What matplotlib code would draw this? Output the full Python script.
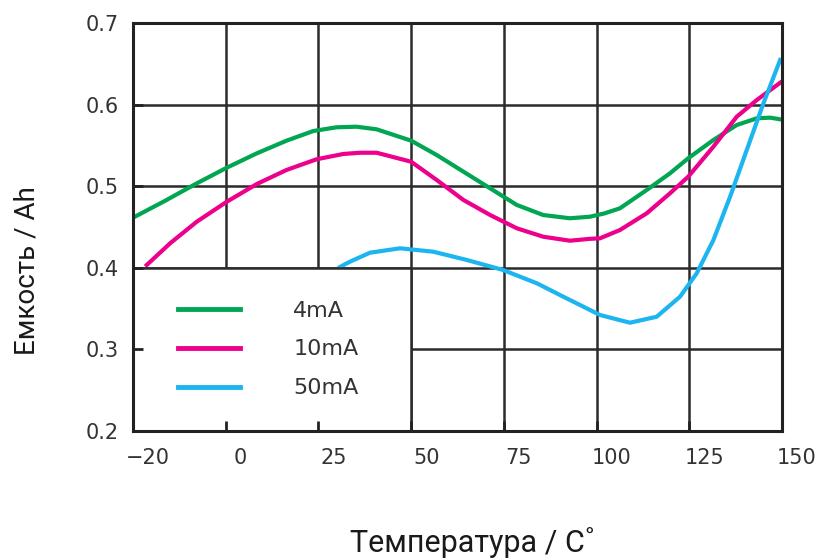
import matplotlib
matplotlib.use("Agg")
import matplotlib.pyplot as plt
import matplotlib.transforms as mtransforms
from matplotlib.patches import Rectangle

# ---- data ----
temp_4ma = [-24.5, -16.8, -7.8, 0.3, 8.4, 16.4, 23.6, 29.9, 35.3, 40.7, 50, 56.9,
            64.1, 71.3, 78.5, 85.6, 92.8, 98.2, 102, 106.3, 113.5, 119.8, 124.7, 131.5,
            137.8, 143.2, 146.8, 149.5]
cap_4ma = [0.4626, 0.481, 0.5035, 0.5227, 0.5403, 0.5558, 0.5676, 0.5722, 0.5729,
           0.5697, 0.5558, 0.5382, 0.5178, 0.4974, 0.477, 0.4647, 0.4607, 0.4626,
           0.4665, 0.4729, 0.4953, 0.5158, 0.5342, 0.5566, 0.575, 0.5832, 0.584, 0.582]

temp_10ma = [-21.3, -15, -7.8, 0.3, 8.4, 16.4, 24.5, 31.7, 36.2, 40.7, 50, 56.9,
             64.1, 71.3, 78.5, 85.6, 92.8, 98.2, 100.9, 106.3, 113.5, 119.8, 124.7,
             131.5, 137.8, 143.2, 149.5]
cap_10ma = [0.4034, 0.430, 0.4565, 0.481, 0.5027, 0.5199, 0.533, 0.5395, 0.541,
            0.541, 0.530, 0.5076, 0.4831, 0.4647, 0.4484, 0.4381, 0.4332, 0.4355,
            0.4361, 0.4463, 0.4667, 0.4913, 0.5116, 0.5484, 0.5852, 0.6056, 0.6268]

temp_50ma = [30.8, 33.5, 38.9, 47, 56, 65, 74.8, 83.9, 91.9, 95.5, 100.9, 109,
             116.2, 122.5, 127, 131.5, 136, 140.5, 145, 149.5]
cap_50ma = [0.401, 0.4075, 0.4185, 0.4239, 0.4197, 0.4096, 0.3973, 0.381, 0.3626,
            0.3545, 0.3422, 0.3327, 0.340, 0.3646, 0.3933, 0.434, 0.4871, 0.5444,
            0.6016, 0.6547]

series_labels = ["4mA", "10mA", "50mA"]
series_colors = ["#00a651", "#ec008c", "#1cb5ef"]

x_grid = [-25, 0, 25, 50, 75, 100, 125, 150]
x_ticklabels = ["\u221220", "0", "25", "50", "75", "100", "125", "150"]
y_grid = [0.2, 0.3, 0.4, 0.5, 0.6, 0.7]

# ---- figure ----
fig = plt.figure(figsize=(8.24, 5.58), dpi=100)
ax = fig.add_axes([133 / 824, 1 - 431 / 558, 649 / 824, 408 / 558])
ax.set_xlim(-25, 150)
ax.set_ylim(0.2, 0.7)

grid_kw = dict(color="#2b2b2b", lw=1.8)
for gx in x_grid[1:-1]:
    ax.axvline(gx, zorder=1, **grid_kw)
for gy in y_grid[1:-1]:
    ax.axhline(gy, zorder=1, **grid_kw)

for xs, ys, c, lab in zip([temp_4ma, temp_10ma, temp_50ma],
                          [cap_4ma, cap_10ma, cap_50ma],
                          series_colors, series_labels):
    ax.plot(xs, ys, color=c, lw=3, label=lab, zorder=2, solid_joinstyle="round")

# white box behind the legend (hides the grid in the lower-left corner)
ax.add_patch(Rectangle((-25, 0.2), 75, 0.2, facecolor="white", edgecolor="none", zorder=3))
ax.axvline(50, ymin=0, ymax=0.4, zorder=3.5, **grid_kw)
ax.axhline(0.4, xmin=0, xmax=75 / 175, zorder=3.5, **grid_kw)

leg = ax.legend(loc="center left", bbox_to_anchor=(0.069, 0.2), frameon=False,
                fontsize=16, handlelength=2.8, handletextpad=2.4, labelspacing=0.85,
                borderpad=0, borderaxespad=0)
for h in leg.get_lines():
    h.set_linewidth(3.5)
for t in leg.get_texts():
    t.set_color("#333333")
leg.set_zorder(6)

# ticks
ax.set_xticks(x_grid)
ax.set_xticklabels(x_ticklabels)
ax.set_yticks(y_grid)
ax.set_yticklabels([f"{v:.1f}" for v in y_grid])
ax.tick_params(direction="in", length=7, width=2, color="#222222",
               labelcolor="#333333", labelsize=15)
ax.tick_params(axis="x", pad=12)
ax.tick_params(axis="y", pad=10)
ax.xaxis.set_zorder(4)
ax.yaxis.set_zorder(4)
shift = mtransforms.ScaledTranslation(15 / 100, 0, fig.dpi_scale_trans)
for lbl in ax.get_xticklabels():
    lbl.set_transform(lbl.get_transform() + shift)

for sp in ax.spines.values():
    sp.set_linewidth(2.2)
    sp.set_color("#222222")
    sp.set_zorder(5)

fig.text(473 / 824, 1 - 543 / 558, "Температура / С˚", ha="center", va="center",
         fontsize=22, family=["Roboto", "DejaVu Sans"], fontweight="normal", color="#1a1a1a")
fig.text(27 / 824, 1 - 271 / 558, "Емкость / Ah", ha="center", va="center",
         rotation=90, fontsize=20, family=["Roboto", "DejaVu Sans"], fontweight="normal",
         color="#1a1a1a")

fig.savefig("out.png", dpi=100, facecolor="white")
